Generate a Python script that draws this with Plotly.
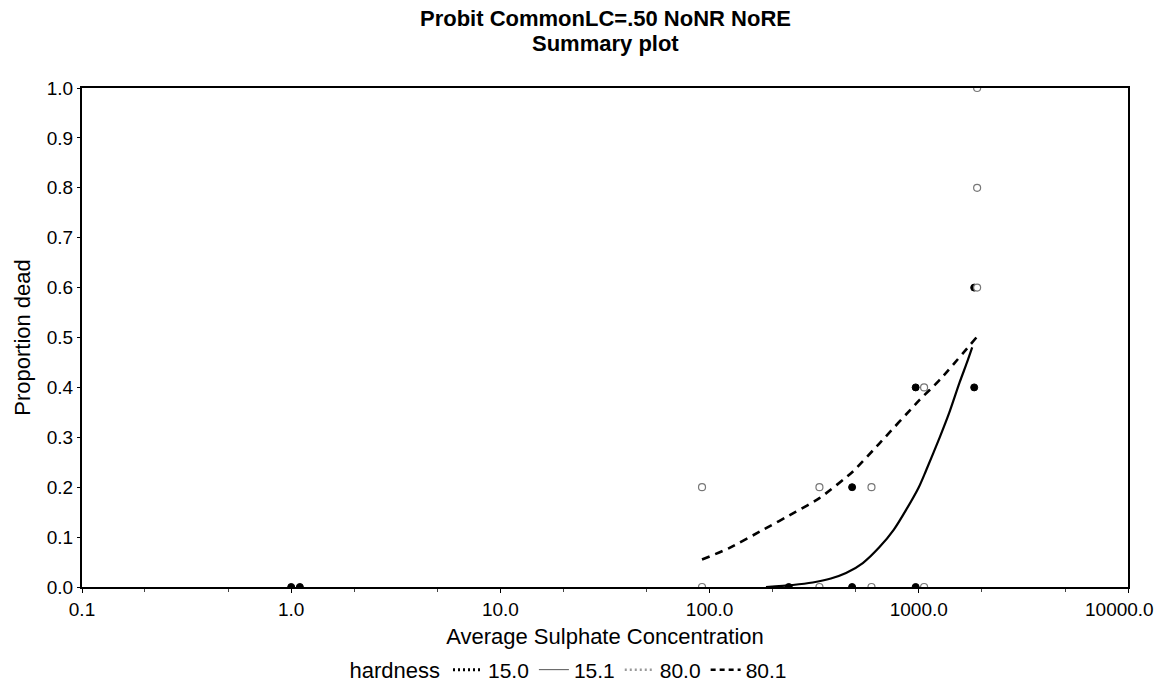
import plotly.graph_objects as go

# Observed data: hardness 15.0 (filled dots)
h150_x = [1.0, 1.1, 239, 480, 480, 966, 966, 1840, 1840]
h150_y = [0.0, 0.0, 0.0, 0.0, 0.2, 0.0, 0.4, 0.4, 0.6]

# Observed data: hardness 80.0 (open circles)
h800_x = [92, 92, 335, 335, 594, 594, 1060, 1060, 1900, 1900, 1900]
h800_y = [0.0, 0.2, 0.0, 0.2, 0.0, 0.2, 0.0, 0.4, 0.6, 0.8, 1.0]

# Fitted curve: hardness 15.1 (solid)
h151_x = [186, 250, 311, 380, 449, 540, 649, 760, 871, 1000, 1087, 1259, 1400, 1567, 1700, 1800]
h151_y = [0.0, 0.004, 0.009, 0.017, 0.028, 0.048, 0.080, 0.115, 0.155, 0.200, 0.235, 0.300, 0.350, 0.410, 0.450, 0.480]

# Fitted curve: hardness 80.1 (dashed)
h801_x = [92, 124, 179, 259, 335, 483, 649, 1009, 1259, 1884]
h801_y = [0.055, 0.078, 0.114, 0.151, 0.178, 0.231, 0.288, 0.375, 0.415, 0.50]

x_tickvals = [0.1, 1, 10, 100, 1000, 10000]
x_ticktext = ["0.1", "1.0", "10.0", "100.0", "1000.0", ""]
last_x_tick_label = "10000.0"   # drawn as annotation so it stays inside the page
y_tickvals = [0.0, 0.1, 0.2, 0.3, 0.4, 0.5, 0.6, 0.7, 0.8, 0.9, 1.0]
y_ticktext = ["0.0", "0.1", "0.2", "0.3", "0.4", "0.5", "0.6", "0.7", "0.8", "0.9", "1.0"]

title_lines = ["Probit CommonLC=.50 NoNR NoRE", "Summary plot"]

FONT = "Liberation Sans, Arial, sans-serif"
W, H = 1159, 688
PLOT_LEFT, PLOT_RIGHT = 82, 1128
PLOT_TOP, PLOT_BOTTOM = 88, 587

def py_to_paper(py):
    return (PLOT_BOTTOM - py) / (PLOT_BOTTOM - PLOT_TOP)

fig = go.Figure()

fig.add_trace(go.Scatter(x=h150_x, y=h150_y, mode="markers", showlegend=False,
                         marker=dict(symbol="circle", size=7, color="black",
                                     line=dict(color="black", width=1))))
fig.add_trace(go.Scatter(x=h151_x, y=h151_y, mode="lines", showlegend=False,
                         line=dict(color="black", width=2.2, shape="spline", smoothing=0.8)))
fig.add_trace(go.Scatter(x=h800_x, y=h800_y, mode="markers", showlegend=False,
                         marker=dict(symbol="circle", size=7, color="white",
                                     line=dict(color="#777777", width=1.2))))
fig.add_trace(go.Scatter(x=h801_x, y=h801_y, mode="lines", showlegend=False,
                         line=dict(color="black", width=2.6, dash="8px,6px",
                                   shape="spline", smoothing=0.6)))

# legend entries
fig.add_trace(go.Scatter(x=[None], y=[None], mode="lines", name="15.0",
                         line=dict(color="black", width=3, dash="2px,3px")))
fig.add_trace(go.Scatter(x=[None], y=[None], mode="lines", name="15.1",
                         line=dict(color="#555555", width=1)))
fig.add_trace(go.Scatter(x=[None], y=[None], mode="lines", name="80.0",
                         line=dict(color="#999999", width=2.5, dash="2px,3px")))
fig.add_trace(go.Scatter(x=[None], y=[None], mode="lines", name="80.1",
                         line=dict(color="black", width=2.5, dash="5px,4px")))

annotations = []
for text, py in zip(title_lines, [18, 44]):
    annotations.append(dict(text="<b>" + text + "</b>", xref="paper", yref="paper",
                            x=0.5, y=py_to_paper(py), xanchor="center", yanchor="middle",
                            showarrow=False, font=dict(family=FONT, size=22, color="black")))
annotations.append(dict(text=last_x_tick_label, xref="x", yref="paper",
                        x=4, xshift=-9, y=py_to_paper(609), xanchor="center", yanchor="middle",
                        showarrow=False, font=dict(family=FONT, size=19, color="black")))

fig.update_layout(
    width=W, height=H,
    margin=dict(l=PLOT_LEFT, r=W - PLOT_RIGHT, t=PLOT_TOP, b=H - PLOT_BOTTOM, autoexpand=False),
    paper_bgcolor="white", plot_bgcolor="white",
    font=dict(family=FONT, size=19, color="black"),
    annotations=annotations,
    xaxis=dict(type="log", range=[-1, 4], tickvals=x_tickvals, ticktext=x_ticktext,
               automargin=False,
               showline=True, linecolor="black", linewidth=2, mirror=True,
               ticks="outside", ticklen=4, tickcolor="black", showgrid=False, zeroline=False,
               minor=dict(ticks="outside", ticklen=3, tickcolor="#444444", showgrid=False),
               tickfont=dict(size=19), ticklabelstandoff=0,
               title=dict(text="Average Sulphate Concentration", standoff=11,
                          font=dict(size=22))),
    yaxis=dict(range=[0, 1], tickvals=y_tickvals, ticktext=y_ticktext,
               automargin=False,
               showline=True, linecolor="black", linewidth=2, mirror=True,
               ticks="outside", ticklen=3, tickcolor="black", showgrid=False, zeroline=False,
               tickfont=dict(size=19), ticklabelstandoff=0,
               title=dict(text="Proportion dead", standoff=10, font=dict(size=22))),
    legend=dict(orientation="h", xref="container", yref="container",
                x=570 / W, xanchor="center", y=1 - 670 / H, yanchor="middle",
                title=dict(text="hardness", font=dict(size=22)),
                font=dict(size=21), itemwidth=30, tracegroupgap=0,
                bgcolor="rgba(0,0,0,0)"),
)

fig.write_html("out.html")
